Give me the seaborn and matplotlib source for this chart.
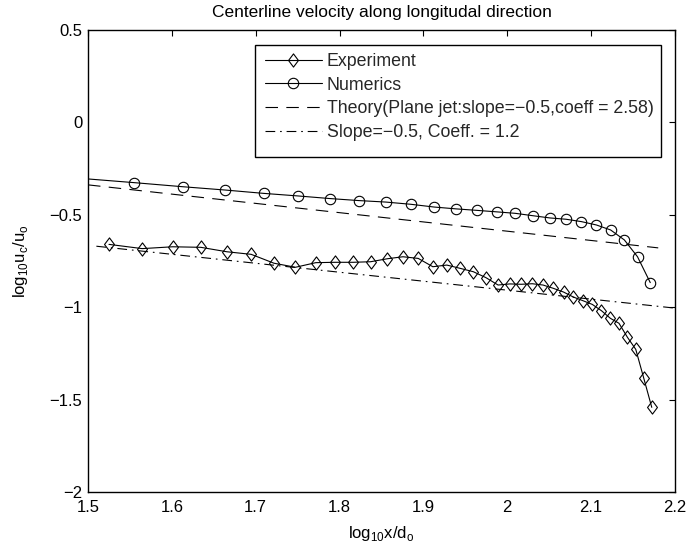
import numpy as np
import pandas as pd
import matplotlib
matplotlib.use("Agg")
import matplotlib.pyplot as plt
from matplotlib.path import Path
from matplotlib.patches import Rectangle
import seaborn as sns

# ---------------- data ----------------
exp_x = [1.5250, 1.5647, 1.6010, 1.6345, 1.6656, 1.6946, 1.7218, 1.7474, 1.7716,
         1.7945, 1.8162, 1.8370, 1.8567, 1.8756, 1.8938, 1.9112, 1.9279, 1.9440,
         1.9595, 1.9745, 1.9890, 2.0030, 2.0166, 2.0298, 2.0426, 2.0550, 2.0671,
         2.0788, 2.0903, 2.1014, 2.1123, 2.1229, 2.1332, 2.1433, 2.1532, 2.1628,
         2.1723]
exp_y = [-0.660, -0.683, -0.673, -0.676, -0.700, -0.714, -0.762, -0.784, -0.759,
         -0.757, -0.757, -0.754, -0.738, -0.727, -0.736, -0.781, -0.772, -0.790,
         -0.808, -0.840, -0.880, -0.874, -0.876, -0.873, -0.880, -0.898, -0.918,
         -0.945, -0.965, -0.985, -1.019, -1.060, -1.087, -1.163, -1.228, -1.385,
         -1.542]

num_x = [1.5000, 1.5551, 1.6128, 1.6637, 1.7093, 1.7505, 1.7882, 1.8228, 1.8549,
         1.8848, 1.9128, 1.9390, 1.9638, 1.9872, 2.0095, 2.0306, 2.0508, 2.0700,
         2.0885, 2.1062, 2.1232, 2.1396, 2.1553, 2.1705]
num_y = [-0.306, -0.326, -0.348, -0.366, -0.384, -0.398, -0.412, -0.423, -0.431,
         -0.443, -0.458, -0.468, -0.476, -0.484, -0.492, -0.505, -0.517, -0.524,
         -0.537, -0.555, -0.582, -0.636, -0.727, -0.867]

theory_x = [1.500, 2.180]
theory_y = [-0.338, -0.679]

slope_x = [1.510, 2.200]
slope_y = [-0.670, -1.005]

x_ticks = [1.5, 1.6, 1.7, 1.8, 1.9, 2.0, 2.1, 2.2]
x_tick_labels = ["1.5", "1.6", "1.7", "1.8", "1.9", "2", "2.1", "2.2"]
y_ticks = [0.5, 0.0, -0.5, -1.0, -1.5, -2.0]
y_tick_labels = ["0.5", "0", "\u22120.5", "\u22121", "\u22121.5", "\u22122"]

labels = ["Experiment", "Numerics",
          "Theory(Plane jet:slope=\u22120.5,coeff = 2.58)",
          "Slope=\u22120.5, Coeff. = 1.2"]
title = "Centerline velocity along longitudal direction"

# ---------------- style ----------------
sns.set_theme(style="white")
plt.rcParams["font.family"] = ["Liberation Sans", "DejaVu Sans"]
plt.rcParams["mathtext.fontset"] = "custom"
plt.rcParams["mathtext.rm"] = "Liberation Sans"
plt.rcParams["lines.scale_dashes"] = False
plt.rcParams["axes.edgecolor"] = "black"
plt.rcParams["axes.linewidth"] = 1.0

fig = plt.figure(figsize=(6.89, 5.51), dpi=100)
ax = fig.add_axes([88 / 689, 59 / 551, 587 / 689, 462 / 551])

diamond = Path([(0, 1), (0.75, 0), (0, -1), (-0.75, 0), (0, 1)],
               [Path.MOVETO, Path.LINETO, Path.LINETO, Path.LINETO, Path.CLOSEPOLY])

lw = 0.8
df_exp = pd.DataFrame({"x": exp_x, "y": exp_y})
df_num = pd.DataFrame({"x": num_x, "y": num_y})
df_th = pd.DataFrame({"x": theory_x, "y": theory_y})
df_sl = pd.DataFrame({"x": slope_x, "y": slope_y})

sns.lineplot(data=df_exp, x="x", y="y", ax=ax, color="black", linewidth=lw,
             marker=diamond, markersize=9.5, markerfacecolor="none",
             markeredgecolor="black", markeredgewidth=lw, label=labels[0],
             estimator=None, sort=False)
sns.lineplot(data=df_num, x="x", y="y", ax=ax, color="black", linewidth=lw,
             marker="o", markersize=7.5, markerfacecolor="none",
             markeredgecolor="black", markeredgewidth=lw, label=labels[1],
             markevery=list(range(1, len(num_x))),
             estimator=None, sort=False)
sns.lineplot(data=df_th, x="x", y="y", ax=ax, color="black", linewidth=lw,
             dashes=False, label=labels[2], estimator=None, sort=False)
sns.lineplot(data=df_sl, x="x", y="y", ax=ax, color="black", linewidth=lw,
             dashes=False, label=labels[3], estimator=None, sort=False)

lines = ax.get_lines()
lines[2].set_dashes((9, 6))
lines[3].set_dashes((7, 3.5, 1.2, 3.5))

ax.set_xlim(1.5, 2.2)
ax.set_ylim(-2.0, 0.5)
ax.set_xticks(x_ticks)
ax.set_xticklabels(x_tick_labels)
ax.set_yticks(y_ticks)
ax.set_yticklabels(y_tick_labels)
ax.tick_params(direction="in", length=4.5, width=0.8, top=True, right=True,
               labelsize=12, colors="black")
ax.tick_params(axis="x", pad=6)
ax.tick_params(axis="y", pad=4)
for s in ax.spines.values():
    s.set_visible(True)
    s.set_color("black")
    s.set_linewidth(1.0)

ax.set_xlabel(r"log$_{\mathregular{10}}$x/d$_{\mathregular{o}}$", fontsize=12,
              color="black", labelpad=6)
ax.set_ylabel(r"log$_{\mathregular{10}}$u$_{\mathregular{c}}$/u$_{\mathregular{o}}$",
              fontsize=12, color="black", labelpad=14)
ax.set_title(title, fontsize=12.5, color="black", pad=9)

# legend box (MATLAB-like, with extra room at the bottom)
box = Rectangle((0.2845, 0.7251), 0.6917, 0.2424, transform=ax.transAxes,
                facecolor="white", edgecolor="black", linewidth=1.0, zorder=4.5)
ax.add_patch(box)

handles = ax.get_lines()[:4]
leg = ax.legend(handles=handles, labels=labels, loc="upper right",
                bbox_to_anchor=(0.976, 0.966), fontsize=12.8, frameon=False,
                handlelength=3.2, handletextpad=0.3, labelspacing=0.38,
                borderpad=0.4, borderaxespad=0)
leg.set_zorder(6)

fig.savefig("out.png", dpi=100)
